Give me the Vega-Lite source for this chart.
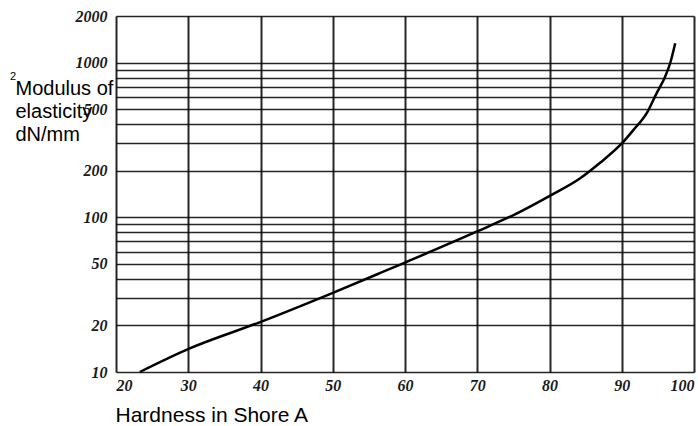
{
  "$schema": "https://vega.github.io/schema/vega-lite/v6.json",
  "width": 578,
  "height": 356,
  "autosize": "none",
  "padding": {"left": 116, "top": 16, "right": 4, "bottom": 54},
  "background": "white",
  "title": {
    "text": "2",
    "anchor": "start",
    "frame": "group",
    "fontSize": 11,
    "font": "Liberation Sans",
    "fontWeight": "normal",
    "color": "black",
    "offset": 0,
    "dx": -106,
    "dy": 74
  },
  "config": {
    "view": {"stroke": null},
    "axis": {
      "domain": false,
      "ticks": false,
      "gridColor": "black",
      "gridOpacity": 0.85,
      "labelFont": "Liberation Serif",
      "labelFontStyle": "italic",
      "labelFontWeight": "bold",
      "labelFontSize": 16,
      "labelColor": "#1a1a1a",
      "titleFont": "Liberation Sans",
      "titleFontWeight": "normal",
      "titleFontSize": 20,
      "titleColor": "black"
    }
  },
  "data": {
    "values": [
      {"hardness": 23.3, "modulus": 10},
      {"hardness": 30.2, "modulus": 14.2},
      {"hardness": 39.7, "modulus": 20.8},
      {"hardness": 49.6, "modulus": 31.9},
      {"hardness": 56.5, "modulus": 43.5},
      {"hardness": 60, "modulus": 51},
      {"hardness": 69.9, "modulus": 80.7},
      {"hardness": 75.5, "modulus": 106},
      {"hardness": 80.1, "modulus": 138},
      {"hardness": 84.2, "modulus": 178},
      {"hardness": 87, "modulus": 225},
      {"hardness": 90, "modulus": 300},
      {"hardness": 91.6, "modulus": 366},
      {"hardness": 93.5, "modulus": 475},
      {"hardness": 94.8, "modulus": 630},
      {"hardness": 96, "modulus": 811},
      {"hardness": 96.7, "modulus": 990},
      {"hardness": 97.4, "modulus": 1334}
    ]
  },
  "mark": {"type": "line", "color": "black", "strokeWidth": 2.5, "interpolate": "monotone", "clip": false},
  "encoding": {
    "x": {
      "field": "hardness",
      "type": "quantitative",
      "scale": {"domain": [20, 100], "nice": false, "zero": false},
      "axis": {
        "values": [20, 30, 40, 50, 60, 70, 80, 90, 100],
        "gridWidth": 2,
        "labelPadding": 5,
        "labelBaseline": "top",
        "title": "Hardness in Shore A",
        "titleFontSize": 21,
        "titleAnchor": "start",
        "titleAlign": "left",
        "titleBaseline": "alphabetic",
        "titleX": -1,
        "titleY": 49
      }
    },
    "y": {
      "field": "modulus",
      "type": "quantitative",
      "scale": {"type": "log", "domain": [10, 2000], "nice": false},
      "axis": {
        "values": [10, 20, 30, 40, 50, 60, 70, 80, 90, 100, 200, 300, 400, 500, 600, 700, 800, 900, 1000, 2000],
        "labelExpr": "indexof([10, 20, 50, 100, 200, 500, 1000, 2000], datum.value) >= 0 ? datum.label : ''",
        "format": "d",
        "gridWidth": 1.6,
        "labelPadding": 9,
        "title": ["Modulus of", "elasticity", "dN/mm"],
        "titleAngle": 0,
        "titleAlign": "left",
        "titleBaseline": "alphabetic",
        "titleLineHeight": 23,
        "titleX": -101,
        "titleY": 78
      }
    }
  }
}
